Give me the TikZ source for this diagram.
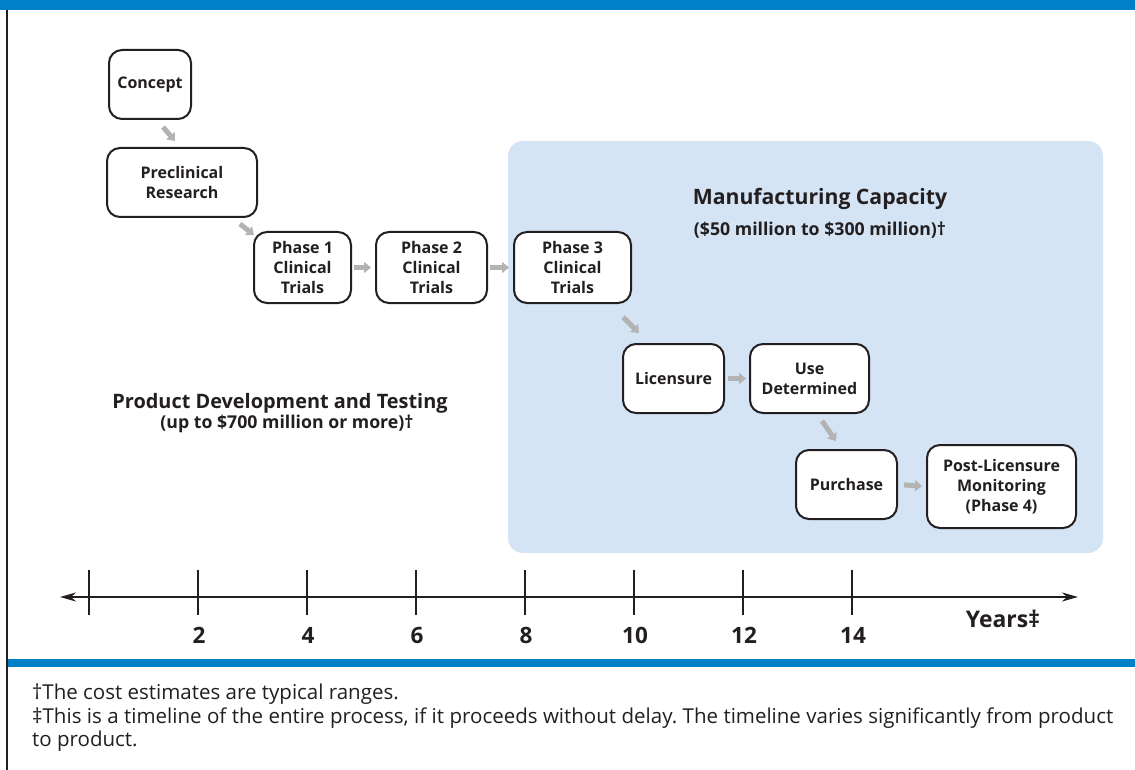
\documentclass[tikz,border=0pt]{standalone}
\usepackage{fontspec}
\setmainfont{Open Sans}
\usetikzlibrary{arrows.meta,calc}
\definecolor{bandblue}{HTML}{0080C6}
\definecolor{panelblue}{HTML}{D4E4F4}
\definecolor{ink}{HTML}{231F20}
\definecolor{arrowgray}{HTML}{B3B3B3}
\begin{document}
\begin{tikzpicture}[x=1pt,y=-1pt,
  stagebox/.style={draw=ink, line width=2pt, rounded corners=13pt, fill=white,
    inner sep=0pt, align=center, text=ink,
    font=\fontsize{16}{20}\selectfont\bfseries},
  garrow/.style={draw=arrowgray, line width=5pt,
    -{Triangle[length=7pt,width=11pt]}},
  subheading/.style={text=ink, font=\fontsize{17.7}{20}\selectfont\bfseries, inner sep=0pt},
  yearlabel/.style={text=ink, font=\fontsize{22.5}{24}\selectfont\bfseries, inner sep=0pt},
  note/.style={text=ink, font=\fontsize{20.5}{23.5}\selectfont\frenchspacing, inner sep=0pt,
    anchor=north west, align=justify, text width=1081pt}
]
\useasboundingbox (0,0) rectangle (1135,770);
\fill[white] (0,0) rectangle (1135,770);

% frame: blue bands and left rule
\fill[bandblue] (0,0) rectangle (1135,10);
\fill[bandblue] (8,659) rectangle (1135,667);
\draw[ink, line width=1.6pt] (7,10) -- (7,770);

% manufacturing panel
\fill[panelblue, rounded corners=15pt] (508,141) rectangle (1103,553);

% stages
\node[stagebox, minimum width=82pt,  minimum height=69pt] (concept) at (150,84.5)   {Concept};
\node[stagebox, minimum width=150pt, minimum height=69pt] (pre)     at (182,182.5)  {Preclinical\\Research};
\node[stagebox, minimum width=97pt,  minimum height=71pt] (p1)      at (302.5,267.5){Phase 1\\Clinical\\Trials};
\node[stagebox, minimum width=111pt, minimum height=71pt] (p2)      at (431.5,267.5){Phase 2\\Clinical\\Trials};
\node[stagebox, minimum width=117pt, minimum height=71pt] (p3)      at (572.5,267.5){Phase 3\\Clinical\\Trials};
\node[stagebox, minimum width=101pt, minimum height=69pt] (lic)     at (673.5,378.5){Licensure};
\node[stagebox, minimum width=119pt, minimum height=69pt] (use)     at (809.5,378.5){Use\\Determined};
\node[stagebox, minimum width=101pt, minimum height=69pt] (pur)     at (846.5,484.5){Purchase};
\node[stagebox, minimum width=149pt, minimum height=83pt] (post)    at (1001.5,486.5){Post-Licensure\\Monitoring\\(Phase 4)};

% flow arrows
\draw[garrow] ($(concept.south)+(13,7)$) -- ($(pre.north)+(-7,-6)$);
\draw[garrow] ($(pre.south)+(58,6)$) -- ($(p1.north west)+(1,4)$);
\draw[garrow, shorten <=2pt, shorten >=4pt] (p1.east) -- (p2.west);
\draw[garrow, shorten <=2pt, shorten >=4pt] (p2.east) -- (p3.west);
\draw[garrow] ($(p3.south east)+(-9,13)$) -- ($(lic.north west)+(17,-10)$);
\draw[garrow, shorten <=3pt, shorten >=3pt] (lic.east) -- (use.west);
\draw[garrow] ($(use.south)+(12.5,7)$) -- ($(pur.north)+(-10.5,-8)$);
\draw[garrow, shorten <=6pt, shorten >=4pt] (pur.east) -- (post.west);

% cost headings
\node[text=ink, font=\fontsize{21.2}{24}\selectfont\bfseries, inner sep=0pt] (mfg) at (820,199) {Manufacturing Capacity};
\node[subheading] (mfgcost) at (820,230) {(\$50 million to \$300 million)†};
\node[text=ink, font=\fontsize{19.9}{24}\selectfont\bfseries, inner sep=0pt] (dev) at (280,403) {Product Development and Testing};
\node[subheading] (devcost) at (287,424) {(up to \$700 million or more)†};

% timeline
\coordinate (axl) at (60,597);
\coordinate (axr) at (1078,597);
\draw[ink, line width=1.8pt, {Stealth[length=16pt,width=9pt,inset=5pt]}-{Stealth[length=16pt,width=9pt,inset=5pt]}] (axl) -- (axr);
\foreach \i/\yr in {0/,1/2,2/4,3/6,4/8,5/10,6/12,7/14}{
  \coordinate (t\i) at (89+109*\i,597);
  \draw[ink, line width=1.8pt] ($(t\i)+(0,-27)$) -- ($(t\i)+(0,18)$);
  \node[yearlabel] (yl\i) at ($(t\i)+(1,38)$) {\yr};
}
\node[text=ink, font=\fontsize{22.9}{26}\selectfont\bfseries, inner sep=0pt] (years) at (1003,619) {Years‡};

% footnotes
\node[note] (notes) at (32,684) {†The cost estimates are typical ranges.\\
‡This is a timeline of the entire process, if it proceeds without delay. The timeline varies significantly from product\linebreak to product.};
\end{tikzpicture}
\end{document}
